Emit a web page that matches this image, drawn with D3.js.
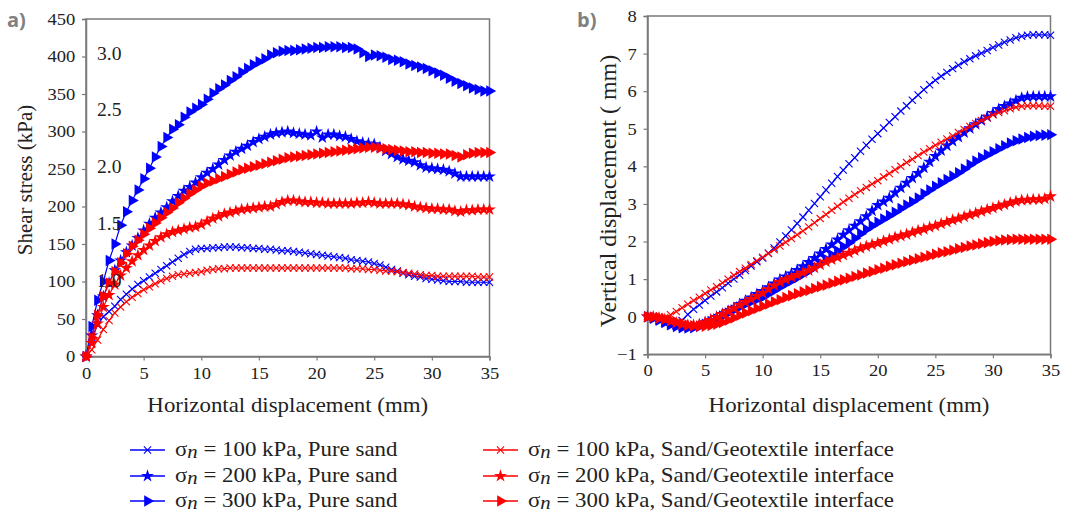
<!DOCTYPE html>
<html>
<head>
<meta charset="utf-8">
<script src="https://cdn.jsdelivr.net/npm/d3@7"></script>
<style>
  html, body { margin: 0; padding: 0; background: #fff; }
  svg { display: block; }
  svg text { font-family: 'Liberation Serif', serif; }
  .tick text { font-size: 17px; fill: #222; }
</style>
</head>
<body>
<svg id="chart" width="1066" height="513"></svg>
<script>
// Horizontal displacement steps (mm)
const disp = [0,0.5,1,1.5,2,2.5,3,3.5,4,4.5,5,5.5,6,6.5,7,7.5,8,8.5,9,9.5,
  10,10.5,11,11.5,12,12.5,13,13.5,14,14.5,15,15.5,16,16.5,17,17.5,18,18.5,19,19.5,
  20,20.5,21,21.5,22,22.5,23,23.5,24,24.5,25,25.5,26,26.5,27,27.5,28,28.5,29,29.5,
  30,30.5,31,31.5,32,32.5,33,33.5,34,34.5,35];

// Shear stress (kPa)
const shearSand100 = [0,25,42,53,60,67,76,83,90,96,
  101,106,111,116,121,126,131,136,140,143,
  144,144,145,145,146,146,146,145,145,144,
  144,143,143,142,141,141,140,139,138,137,
  136,135,134,133,132,131,129,128,127,126,
  124,122,119,116,114,111,109,107,106,104,
  103,102,101,100,100,100,99,99,99,99,
  99];
const shearSand200 = [0,28,55,80,98,115,128,139,148,158,
  168,177,185,192,199,207,214,221,226,232,
  239,245,250,256,262,268,273,277,281,286,
  290,293,296,298,299,300,298,297,296,295,
  300,292,296,296,294,293,290,287,285,284,
  283,279,274,270,266,263,261,259,255,252,
  251,250,249,247,244,240,240,240,240,240,
  240];
const shearSand300 = [0,40,75,100,128,150,175,193,208,222,
  237,251,266,280,292,303,309,319,326,331,
  336,343,351,357,362,368,373,379,384,389,
  393,397,402,405,407,408,408,409,410,411,
  412,412,413,413,413,412,412,410,405,400,
  402,401,399,396,395,393,390,388,386,384,
  381,378,375,371,367,364,361,358,356,354,
  354];
const shearGeo100 = [0,9,22,36,48,58,66,73,79,84,
  89,93,97,101,104,107,109,110,111,112,
  113,115,116,117,117,118,118,118,118,118,
  118,118,118,118,118,118,118,118,118,118,
  118,118,118,118,118,118,117,117,117,116,
  116,115,114,114,113,112,111,110,109,108,
  108,107,107,107,107,107,107,107,106,106,
  106];
const shearGeo200 = [0,18,44,66,82,96,108,118,127,135,
  142,148,154,159,163,166,168,170,172,173,
  176,180,184,187,190,192,194,196,197,198,
  199,200,200,203,206,208,208,207,206,206,
  205,205,204,204,204,204,204,205,205,206,
  205,204,204,204,204,203,202,200,199,198,
  197,197,196,196,194,193,195,195,196,196,
  196];
const shearGeo300 = [0,25,55,80,98,113,125,137,147,155,
  163,171,178,185,192,198,205,211,217,222,
  227,231,234,237,240,243,246,249,251,253,
  255,257,259,261,263,265,266,267,268,269,
  270,271,272,273,274,275,276,277,278,279,
  279,278,277,276,275,274,273,273,272,272,
  271,271,270,270,268,266,269,271,272,272,
  272];

// Vertical displacement (mm)
const vertSand100 = [0,-0.05,-0.11,-0.18,-0.25,-0.24,-0.1,0.06,0.2,0.31,
  0.43,0.55,0.66,0.77,0.89,1.0,1.11,1.23,1.35,1.46,
  1.56,1.69,1.83,1.99,2.15,2.31,2.48,2.65,2.83,3.01,
  3.19,3.37,3.55,3.73,3.9,4.07,4.23,4.4,4.56,4.72,
  4.87,5.02,5.17,5.32,5.47,5.61,5.76,5.9,6.04,6.17,
  6.29,6.4,6.5,6.6,6.69,6.78,6.86,6.94,7.01,7.08,
  7.16,7.23,7.3,7.36,7.42,7.46,7.49,7.5,7.5,7.5,
  7.49];
const vertSand200 = [0,-0.03,-0.07,-0.12,-0.17,-0.22,-0.25,-0.26,-0.25,-0.22,
  -0.16,-0.09,-0.01,0.07,0.15,0.23,0.33,0.42,0.51,0.6,
  0.68,0.78,0.88,0.99,1.07,1.15,1.24,1.34,1.45,1.56,
  1.68,1.8,1.92,2.05,2.18,2.3,2.42,2.54,2.67,2.82,
  2.97,3.06,3.16,3.3,3.43,3.56,3.69,3.82,3.96,4.12,
  4.27,4.42,4.55,4.67,4.78,4.9,5.01,5.12,5.22,5.32,
  5.42,5.52,5.6,5.67,5.75,5.82,5.85,5.86,5.86,5.86,
  5.86];
const vertSand300 = [0,-0.04,-0.09,-0.15,-0.21,-0.26,-0.29,-0.3,-0.29,-0.26,
  -0.2,-0.13,-0.06,0.02,0.1,0.18,0.26,0.33,0.4,0.46,
  0.52,0.61,0.7,0.79,0.88,0.96,1.04,1.13,1.22,1.32,
  1.42,1.53,1.64,1.75,1.86,1.97,2.09,2.21,2.32,2.42,
  2.51,2.6,2.69,2.78,2.88,2.97,3.06,3.16,3.27,3.37,
  3.47,3.56,3.65,3.74,3.83,3.93,4.04,4.14,4.23,4.31,
  4.39,4.47,4.55,4.62,4.68,4.73,4.77,4.8,4.82,4.83,
  4.84];
const vertGeo100 = [0.02,0.02,0,-0.02,0.05,0.14,0.24,0.33,0.43,0.52,
  0.62,0.71,0.8,0.9,1.0,1.1,1.2,1.29,1.39,1.49,
  1.58,1.68,1.78,1.88,1.98,2.08,2.18,2.28,2.39,2.5,
  2.61,2.72,2.83,2.94,3.05,3.15,3.25,3.35,3.44,3.53,
  3.62,3.72,3.81,3.91,4.0,4.1,4.19,4.29,4.38,4.47,
  4.56,4.64,4.73,4.81,4.9,4.98,5.06,5.14,5.22,5.29,
  5.37,5.43,5.48,5.53,5.57,5.6,5.61,5.61,5.61,5.6,
  5.6];
const vertGeo200 = [0,0,-0.03,-0.07,-0.12,-0.16,-0.2,-0.22,-0.22,-0.2,
  -0.15,-0.09,-0.02,0.06,0.14,0.22,0.31,0.39,0.47,0.55,
  0.63,0.73,0.83,0.92,0.99,1.05,1.11,1.17,1.23,1.3,
  1.38,1.46,1.52,1.58,1.64,1.7,1.76,1.82,1.87,1.92,
  1.96,2.01,2.06,2.11,2.15,2.19,2.24,2.29,2.33,2.38,
  2.42,2.47,2.52,2.57,2.61,2.66,2.71,2.75,2.8,2.85,
  2.89,2.94,2.98,3.03,3.07,3.1,3.11,3.12,3.12,3.14,
  3.2];
const vertGeo300 = [0,-0.01,-0.03,-0.06,-0.1,-0.14,-0.18,-0.22,-0.24,-0.25,
  -0.25,-0.23,-0.2,-0.15,-0.09,-0.03,0.04,0.1,0.16,0.22,
  0.28,0.34,0.4,0.45,0.51,0.56,0.61,0.66,0.7,0.75,
  0.8,0.84,0.89,0.94,0.98,1.02,1.07,1.11,1.16,1.2,
  1.25,1.29,1.34,1.38,1.42,1.46,1.5,1.54,1.58,1.62,
  1.66,1.7,1.73,1.77,1.81,1.84,1.88,1.91,1.94,1.97,
  2.0,2.02,2.04,2.05,2.06,2.06,2.06,2.06,2.06,2.06,
  2.06];

// Axis ticks and labels
const xTicks = [0,5,10,15,20,25,30,35];
const shearTicks = [0,50,100,150,200,250,300,350,400,450];
const vertTicks = [-1,0,1,2,3,4,5,6,7,8];
const ratioTicks = [1.0,1.5,2.0,2.5,3.0];
const legendStress = ["100 kPa", "200 kPa", "300 kPa"];
const legendMaterial = ["Pure sand", "Sand/Geotextile interface"];
const markerTypes = ["cross", "star", "triangle"];
const seriesColors = ["#0000ff", "#ff0000"];

const svg = d3.select("#chart");
svg.append("rect").attr("width", 1066).attr("height", 513).attr("fill", "#fff");

const frameColor = "#7a7a7a";
const textColor = "#222";
const stretch = 1.09; // horizontal widening of the serif lettering

function marker(g, type, color) {
  if (type === "cross") {
    g.append("path")
      .attr("d", "M-3.6,-3.6L3.6,3.6M-3.6,3.6L3.6,-3.6")
      .attr("stroke", color).attr("stroke-width", 1.1).attr("fill", "none");
  } else if (type === "star") {
    g.append("path")
      .attr("d", d3.symbol(d3.symbolStar, 52)())
      .attr("fill", color);
  } else {
    g.append("path")
      .attr("d", d3.symbol(d3.symbolTriangle, 58)())
      .attr("transform", "rotate(90)")
      .attr("fill", color);
  }
}

// text placed at (x, y), widened horizontally around its anchor
function label(parent, x, y, size, anchor) {
  return parent.append("text")
    .attr("transform", `translate(${x},${y}) scale(${stretch},1)`)
    .attr("text-anchor", anchor || "start")
    .attr("font-size", size).attr("fill", textColor);
}

function panel(opts) {
  const { x, y, yTicks, series, xTitle, yTitle, yTitleX, yTitleY, yTitleSize, tag, tagX } = opts;
  const g = svg.append("g");
  const [x0, x1] = x.range();
  const [y0, y1] = y.range();

  // frame
  g.append("rect")
    .attr("x", x0).attr("y", y1)
    .attr("width", x1 - x0).attr("height", y0 - y1)
    .attr("fill", "none").attr("stroke", frameColor).attr("stroke-width", 1.5);

  const ax = g.append("g").attr("transform", `translate(0,${y0})`)
    .call(d3.axisBottom(x).tickValues(xTicks).tickSize(4).tickPadding(6).tickFormat(d3.format("d")));
  const ay = g.append("g").attr("transform", `translate(${x0},0)`)
    .call(d3.axisLeft(y).tickValues(yTicks).tickSize(4).tickPadding(5).tickFormat(d3.format("d")));
  [ax, ay].forEach(a => {
    a.attr("font-family", null);
    a.select(".domain").attr("stroke", frameColor).attr("stroke-width", 1.5);
    a.selectAll(".tick line").attr("stroke", frameColor).attr("stroke-width", 1.2);
  });
  ax.selectAll(".tick text").attr("transform", `scale(${stretch},1)`);
  ay.selectAll(".tick text").attr("transform", `translate(-1,0) scale(${stretch},1)`);

  // series
  const line = d3.line().x((d, i) => x(disp[i])).y(d => y(d));
  series.forEach(s => {
    const sg = g.append("g");
    sg.append("path").datum(s.values)
      .attr("d", line).attr("fill", "none")
      .attr("stroke", s.color).attr("stroke-width", 1.2);
    sg.selectAll("g.m").data(s.values).join("g")
      .attr("class", "m")
      .attr("transform", (d, i) => `translate(${x(disp[i])},${y(d)})`)
      .each(function () { marker(d3.select(this), s.marker, s.color); });
  });

  label(g, (x0 + x1) / 2, 412, 21, "middle").text(xTitle);
  g.append("text")
    .attr("transform", `translate(${yTitleX},${yTitleY}) rotate(-90)`)
    .attr("text-anchor", "middle")
    .attr("font-size", yTitleSize).attr("fill", textColor)
    .text(yTitle);
  g.append("text")
    .attr("x", tagX).attr("y", 27)
    .style("font-family", "'Open Sans', 'Noto Sans', sans-serif")
    .attr("font-weight", 700).attr("font-size", 20).attr("fill", "#808080")
    .text(tag);
  return g;
}

// Panel a: shear stress
const xa = d3.scaleLinear().domain([0, 35]).range([86, 489.5]);
const ya = d3.scaleLinear().domain([0, 450]).range([356.5, 19]);
const ga = panel({
  x: xa, y: ya, yTicks: shearTicks,
  series: [
    { values: shearSand100, color: seriesColors[0], marker: "cross" },
    { values: shearSand200, color: seriesColors[0], marker: "star" },
    { values: shearSand300, color: seriesColors[0], marker: "triangle" },
    { values: shearGeo100, color: seriesColors[1], marker: "cross" },
    { values: shearGeo200, color: seriesColors[1], marker: "star" },
    { values: shearGeo300, color: seriesColors[1], marker: "triangle" }
  ],
  xTitle: "Horizontal displacement (mm)",
  yTitle: "Shear stress (kPa)", yTitleX: 32, yTitleY: 180, yTitleSize: 21,
  tag: "a)", tagX: 7
});

// stress-ratio labels inside panel a
const ratioY = d3.scaleLinear().domain([1, 3]).range([ya(101), ya(404)]);
ratioTicks.forEach(r => {
  label(ga, 97, ratioY(r) + 6, 18).text(d3.format(".1f")(r));
});

// Panel b: vertical displacement
const xb = d3.scaleLinear().domain([0, 35]).range([647.5, 1050.5]);
const yb = d3.scaleLinear().domain([-1, 8]).range([354.3, 16]);
panel({
  x: xb, y: yb, yTicks: vertTicks,
  series: [
    { values: vertSand100, color: seriesColors[0], marker: "cross" },
    { values: vertSand200, color: seriesColors[0], marker: "star" },
    { values: vertSand300, color: seriesColors[0], marker: "triangle" },
    { values: vertGeo100, color: seriesColors[1], marker: "cross" },
    { values: vertGeo200, color: seriesColors[1], marker: "star" },
    { values: vertGeo300, color: seriesColors[1], marker: "triangle" }
  ],
  xTitle: "Horizontal displacement (mm)",
  yTitle: "Vertical displacement ( mm)", yTitleX: 616, yTitleY: 191, yTitleSize: 24,
  tag: "b)", tagX: 577
});

// Legend
const legend = svg.append("g");
const colX = [130, 483];
const rowY = [450, 476, 501];
legendMaterial.forEach((mat, c) => {
  legendStress.forEach((st, r) => {
    const lg = legend.append("g").attr("transform", `translate(${colX[c]},${rowY[r]})`);
    lg.append("line").attr("x1", 0).attr("x2", 35).attr("y1", 0).attr("y2", 0)
      .attr("stroke", seriesColors[c]).attr("stroke-width", 1.3);
    marker(lg.append("g").attr("transform", "translate(17.5,0)"), markerTypes[r], seriesColors[c]);
    const t = label(lg, 45, 6, 21);
    t.append("tspan").text("σ");
    t.append("tspan").attr("font-style", "italic").attr("dy", 2).attr("font-size", 19).text("n");
    t.append("tspan").attr("dy", -2).text(` = ${st}, ${mat}`);
  });
});
</script>
</body>
</html>
